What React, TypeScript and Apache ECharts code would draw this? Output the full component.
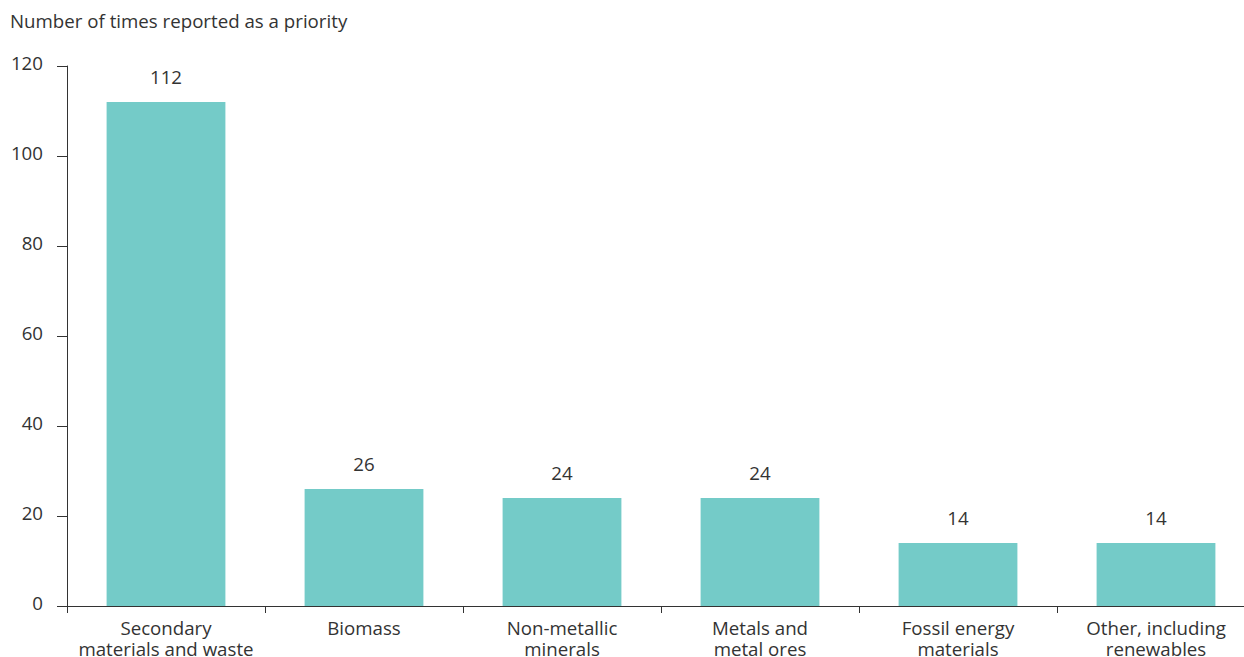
import React, { useEffect, useRef } from "react";
import * as echarts from "echarts";

const categories = [
  "Secondary\nmaterials and waste",
  "Biomass",
  "Non-metallic\nminerals",
  "Metals and\nmetal ores",
  "Fossil energy\nmaterials",
  "Other, including\nrenewables",
];
const values = [112, 26, 24, 24, 14, 14];
const yTicks = { min: 0, max: 120, interval: 20 };
const yTitle = "Number of times reported as a priority";

const FONT = "'Open Sans', sans-serif";
const TXT = "#333333";
const FS = 18.7;

export default function App() {
  const ref = useRef<HTMLDivElement>(null);
  useEffect(() => {
    document.body.style.margin = "0";
    document.body.style.overflow = "hidden";
    const chart = echarts.init(ref.current!, null, { renderer: "svg" });
    chart.setOption({
      animation: false,
      textStyle: { fontFamily: FONT },
      title: {
        text: yTitle,
        left: 5,
        top: 6,
        textStyle: { fontFamily: FONT, fontSize: FS, fontWeight: "normal", color: TXT },
      },
      grid: {
        left: 67,
        right: -11,
        top: 66,
        bottom: 51,
        containLabel: false,
        outerBoundsMode: "none",
      },
      xAxis: {
        type: "category",
        data: categories,
        axisLine: { lineStyle: { color: TXT, width: 1 } },
        axisTick: { show: true, length: 7, lineStyle: { color: TXT } },
        axisLabel: {
          color: TXT,
          fontFamily: FONT,
          fontSize: FS,
          lineHeight: 21,
          margin: 11,
          interval: 0,
          hideOverlap: false,
        },
      },
      yAxis: {
        type: "value",
        min: yTicks.min,
        max: yTicks.max,
        interval: yTicks.interval,
        axisLine: { show: true, lineStyle: { color: TXT, width: 1 } },
        axisTick: { show: true, length: 10, lineStyle: { color: TXT } },
        splitLine: { show: false },
        axisLabel: { color: TXT, fontFamily: FONT, fontSize: FS, margin: 24, verticalAlign: "bottom", padding: [0, 0, -6, 0] },
      },
      series: [
        {
          type: "bar",
          data: values,
          barCategoryGap: "40%",
          itemStyle: { color: "#74CBC8" },
          label: {
            show: true,
            position: "top",
            distance: 16,
            color: TXT,
            fontFamily: FONT,
            fontSize: FS,
          },
        },
      ],
    });
    return () => chart.dispose();
  }, []);
  return <div ref={ref} style={{ width: 1244, height: 657 }} />;
}
